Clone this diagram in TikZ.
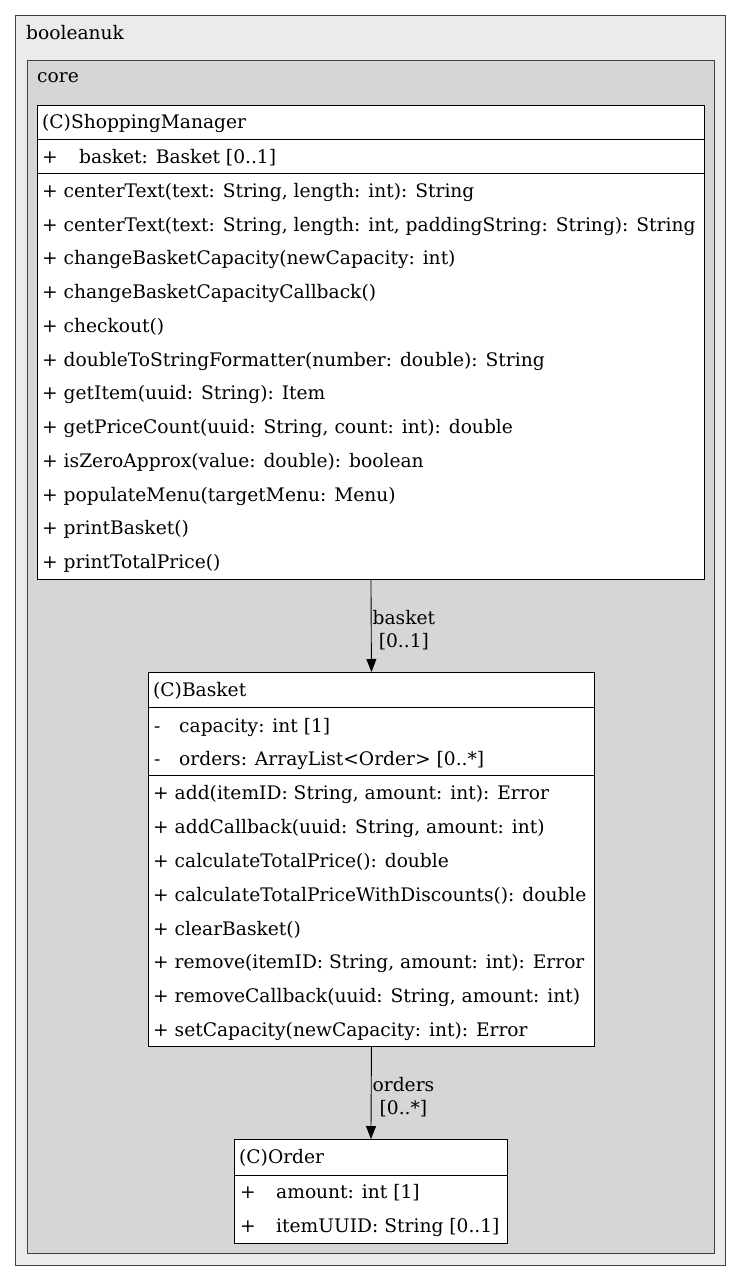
\documentclass[tikz,border=0pt]{standalone}
\usepackage{fontspec}
\setmainfont{DejaVu Serif}
\usetikzlibrary{arrows.meta}

\begin{document}
\begin{tikzpicture}[x=1pt,y=-1pt,
    pkgbox/.style={draw=black!75,line width=0.9pt},
    clsbox/.style={draw=black,fill=white,line width=0.9pt,anchor=north west,inner sep=0pt},
    txt/.style={anchor=base west,inner sep=0pt,font=\fontsize{18.65}{23}\selectfont},
    lbl/.style={inner sep=0pt,font=\fontsize{18.65}{23}\selectfont},
    assoc/.style={-{Triangle[length=13pt,width=10pt]},line width=0.9pt}]
  \useasboundingbox (0,0) rectangle (741,1281);
  \node[pkgbox,fill=black!8,anchor=north west,minimum width=710,minimum height=1250] (booleanuk) at (15,15) {};
  \node[txt] (booleanuk name) at (26,39.5) {booleanuk};
  \node[pkgbox,fill=black!16,anchor=north west,minimum width=687,minimum height=1193] (core) at (27,60) {};
  \node[txt] (core name) at (37,83) {core};
  % ShoppingManager
  \node[clsbox,minimum width=667,minimum height=474] (sm) at (37,105) {};
  \draw (sm.west |- 0,139) -- (sm.east |- 0,139);
  \draw (sm.west |- 0,173) -- (sm.east |- 0,173);
  \node[txt] (sm title) at (42,129) {(C)ShoppingManager};
  \node[txt] (sm a1) at (42,164) {+};
  \node[txt] (sm a1 name) at (79,164) {basket: Basket [0..1]};
  \foreach \m [count=\i] in {
      {centerText(text: String, length: int): String},
      {centerText(text: String, length: int, paddingString: String): String},
      {changeBasketCapacity(newCapacity: int)},
      {changeBasketCapacityCallback()},
      {checkout()},
      {doubleToStringFormatter(number: double): String},
      {getItem(uuid: String): Item},
      {getPriceCount(uuid: String, count: int): double},
      {isZeroApprox(value: double): boolean},
      {populateMenu(targetMenu: Menu)},
      {printBasket()},
      {printTotalPrice()}}
    \node[txt] (sm m\i) at (42,{173+33.75*(\i-0.5)+7.5}) {+ \m};
  % Basket
  \node[clsbox,minimum width=446,minimum height=374] (bk) at (148,672) {};
  \draw (bk.west |- 0,707) -- (bk.east |- 0,707);
  \draw (bk.west |- 0,775) -- (bk.east |- 0,775);
  \node[txt] (bk title) at (153,696) {(C)Basket};
  \node[txt] (bk a1) at (154,732) {-};
  \node[txt] (bk a1 name) at (179,732) {capacity: int [1]};
  \node[txt] (bk a2) at (154,765.5) {-};
  \node[txt] (bk a2 name) at (179,765.5) {orders: ArrayList<Order> [0..*]};
  \foreach \m [count=\i] in {
      {add(itemID: String, amount: int): Error},
      {addCallback(uuid: String, amount: int)},
      {calculateTotalPrice(): double},
      {calculateTotalPriceWithDiscounts(): double},
      {clearBasket()},
      {remove(itemID: String, amount: int): Error},
      {removeCallback(uuid: String, amount: int)},
      {setCapacity(newCapacity: int): Error}}
    \node[txt] (bk m\i) at (153,{775+33.9*(\i-0.5)+7.5}) {+ \m};
  % Order
  \node[clsbox,minimum width=273,minimum height=104] (ord) at (234,1139) {};
  \draw (ord.west |- 0,1175) -- (ord.east |- 0,1175);
  \node[txt] (ord title) at (239,1163.5) {(C)Order};
  \node[txt] (ord a1) at (240,1198) {+};
  \node[txt] (ord a1 name) at (276,1198) {amount: int [1]};
  \node[txt] (ord a2) at (240,1232) {+};
  \node[txt] (ord a2 name) at (276,1232) {itemUUID: String [0..1]};
  \begin{scope}[assoc]
    \draw (sm.south) to node[lbl,align=center,anchor=west,xshift=1pt,yshift=-4pt] {basket\\\relax[0..1]} (bk.north);
    \draw (bk.south) to node[lbl,align=center,anchor=west,xshift=1pt,yshift=-4pt] {orders\\\relax[0..*]} (ord.north);
  \end{scope}
\end{tikzpicture}
\end{document}
